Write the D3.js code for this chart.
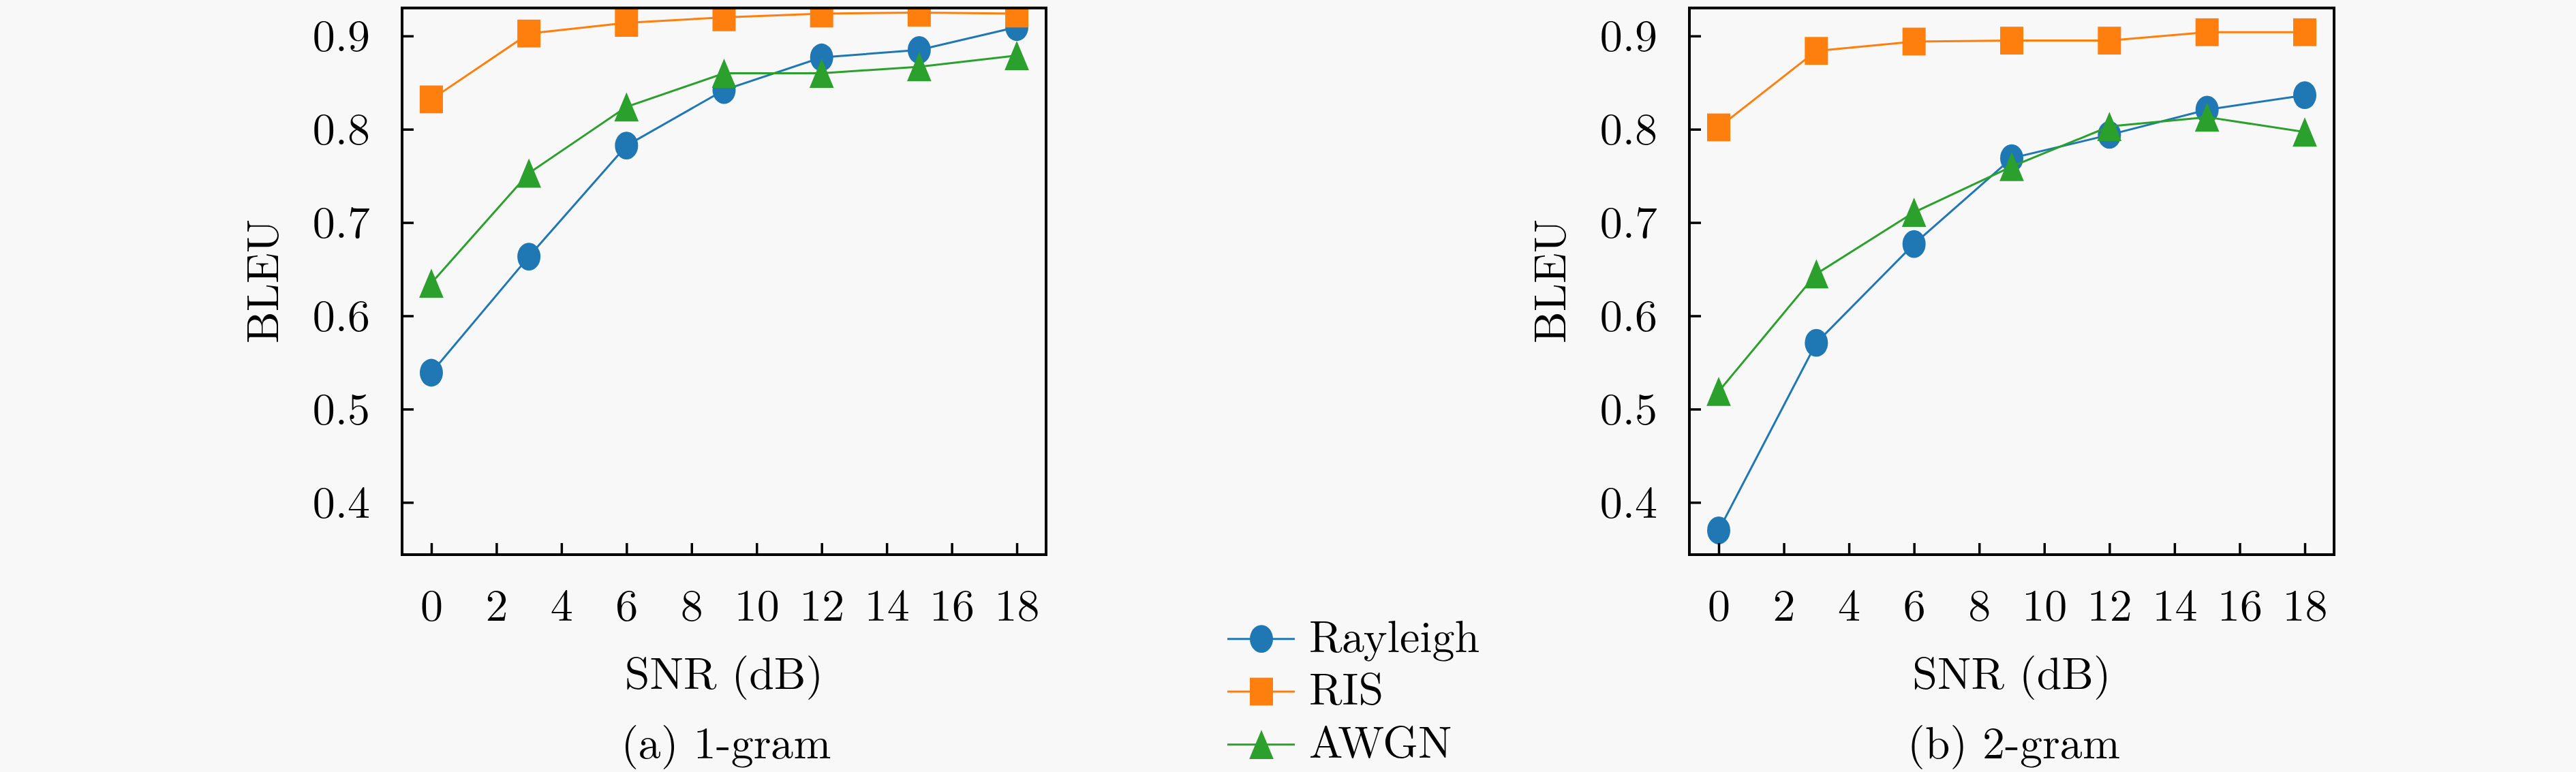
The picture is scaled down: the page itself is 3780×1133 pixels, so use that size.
<!DOCTYPE html>
<html>
<head>
<meta charset="utf-8">
<script src="https://cdn.jsdelivr.net/npm/d3@7"></script>
<style>
  html, body { margin: 0; padding: 0; background: #f8f8f8; }
  svg { display: block; }
</style>
</head>
<body>
<svg id="chart" width="3780" height="1133"></svg>
<script>
// ---- data ----
const snr = [0, 3, 6, 9, 12, 15, 18];
const xTicks = [0, 2, 4, 6, 8, 10, 12, 14, 16, 18];
const yTicks = [0.4, 0.5, 0.6, 0.7, 0.8, 0.9];
const seriesNames = ["Rayleigh", "RIS", "AWGN"];
const seriesColors = ["#1f77b4", "#ff7f0e", "#2ca02c"];
const seriesMarkers = ["circle", "square", "triangle"];

const rayleigh1 = [0.539, 0.6635, 0.7825, 0.842, 0.877, 0.885, 0.9095];
const ris1      = [0.832, 0.9026, 0.914, 0.920, 0.924, 0.925, 0.924];
const awgn1     = [0.635, 0.753, 0.824, 0.860, 0.860, 0.867, 0.879];

const rayleigh2 = [0.370, 0.571, 0.677, 0.769, 0.794, 0.821, 0.8365];
const ris2      = [0.802, 0.884, 0.894, 0.895, 0.895, 0.904, 0.904];
const awgn2     = [0.519, 0.645, 0.711, 0.760, 0.803, 0.813, 0.797];

const panelCaptions = ["(a) 1-gram", "(b) 2-gram"];
const xLabel = "SNR (dB)";
const yLabel = "BLEU";

// ---- layout ----
const FONT = "'Latin Modern Roman', 'Liberation Serif', serif";
const FS = 66;
const svg = d3.select("#chart");
svg.append("rect").attr("width", 3780).attr("height", 1133).attr("fill", "#f8f8f8");

const panels = [
  { left: 590, right: 1535, series: [rayleigh1, ris1, awgn1], caption: panelCaptions[0] },
  { left: 2479, right: 3425, series: [rayleigh2, ris2, awgn2], caption: panelCaptions[1] }
];
const plotTop = 11.7, plotBottom = 814;
const xDomain = [-0.9, 18.9];
const yDomain = [0.344, 0.930];
const MR = 17, MS = 1.2; // marker half-width and vertical stretch

function styleText(sel) {
  return sel.style("font-family", FONT).attr("font-size", FS).attr("fill", "#000");
}

function drawMarker(g, type, color, cx, cy) {
  if (type === "circle") {
    g.append("ellipse").attr("cx", cx).attr("cy", cy)
      .attr("rx", MR).attr("ry", MR * MS).attr("fill", color);
  } else if (type === "square") {
    g.append("rect").attr("x", cx - MR).attr("y", cy - MR * MS)
      .attr("width", 2 * MR).attr("height", 2 * MR * MS).attr("fill", color);
  } else {
    const h = MR * MS * 1.05, w = MR * 1.05;
    g.append("path")
      .attr("d", `M${cx},${cy - h}L${cx + w},${cy + h}L${cx - w},${cy + h}Z`)
      .attr("fill", color);
  }
}

panels.forEach(p => {
  const x = d3.scaleLinear().domain(xDomain).range([p.left, p.right]);
  const y = d3.scaleLinear().domain(yDomain).range([plotBottom, plotTop]);
  const g = svg.append("g");

  const clipId = "clip" + p.left;
  svg.append("clipPath").attr("id", clipId).append("rect")
    .attr("x", p.left).attr("y", plotTop).attr("width", p.right - p.left).attr("height", plotBottom - plotTop);

  const plot = g.append("g").attr("clip-path", `url(#${clipId})`);

  p.series.forEach((vals, i) => {
    const line = d3.line().x((d, j) => x(snr[j])).y(d => y(d));
    plot.append("path").datum(vals).attr("d", line)
      .attr("fill", "none").attr("stroke", seriesColors[i]).attr("stroke-width", 3);
    vals.forEach((v, j) => drawMarker(plot, seriesMarkers[i], seriesColors[i], x(snr[j]), y(v)));
  });

  const xAxis = d3.axisBottom(x).tickValues(xTicks).tickSize(-17).tickPadding(0).tickFormat(d3.format("d"));
  const gx = g.append("g").attr("transform", `translate(0,${plotBottom})`).call(xAxis);
  gx.select(".domain").remove();
  gx.selectAll(".tick line").attr("stroke", "#000").attr("stroke-width", 3.5);
  styleText(gx.selectAll(".tick text")).attr("y", 97).attr("dy", 0);

  const yAxis = d3.axisLeft(y).tickValues(yTicks).tickSize(-17).tickPadding(0).tickFormat(d3.format(".1f"));
  const gy = g.append("g").attr("transform", `translate(${p.left},0)`).call(yAxis);
  gy.select(".domain").remove();
  gy.selectAll(".tick line").attr("stroke", "#000").attr("stroke-width", 3.5);
  styleText(gy.selectAll(".tick text")).attr("x", -47).attr("dy", "0.33em");

  g.append("rect").attr("x", p.left).attr("y", plotTop)
    .attr("width", p.right - p.left).attr("height", plotBottom - plotTop)
    .attr("fill", "none").attr("stroke", "#000").attr("stroke-width", 4);

  const cx = (p.left + p.right) / 2;
  styleText(g.append("text")).attr("x", cx).attr("y", 1011).attr("text-anchor", "middle").text(xLabel);
  styleText(g.append("text")).attr("x", cx + 3).attr("y", 1113).attr("text-anchor", "middle").text(p.caption);
  styleText(g.append("text"))
    .attr("transform", `translate(${p.left - 182},${(plotTop + plotBottom) / 2}) rotate(-90)`)
    .attr("text-anchor", "middle").text(yLabel);
});

// ---- legend ----
const legendRows = [937.7, 1015, 1092.7];
const leg = svg.append("g");
seriesNames.forEach((name, i) => {
  const ly = legendRows[i];
  leg.append("line").attr("x1", 1801).attr("x2", 1900).attr("y1", ly).attr("y2", ly)
    .attr("stroke", seriesColors[i]).attr("stroke-width", 3);
  drawMarker(leg, seriesMarkers[i], seriesColors[i], 1851, ly);
  styleText(leg.append("text")).attr("x", 1921).attr("y", ly + 19).text(name);
});
</script>
</body>
</html>
